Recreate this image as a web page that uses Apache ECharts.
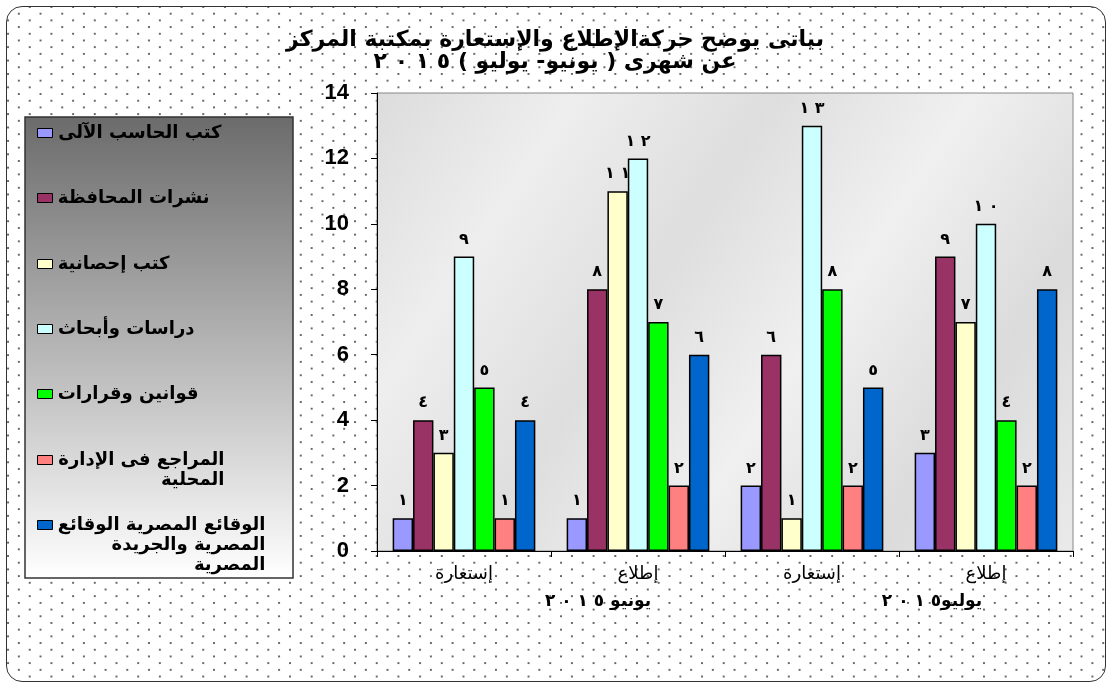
<!DOCTYPE html>
<html>
<head>
<meta charset="utf-8">
<script src="https://cdn.jsdelivr.net/npm/echarts@6/dist/echarts.min.js"></script>
<style>
    html, body { margin: 0; padding: 0; background: #fff; }
    .frame {
        position: absolute;
        left: 6px; top: 6px;
        width: 1098px; height: 674px;
        border: 1.5px solid #333;
        border-radius: 16px;
        background-color: #fff;
        background-image: radial-gradient(circle, #666 0.9px, transparent 1.4px),
                          radial-gradient(circle, #666 0.9px, transparent 1.4px);
        background-size: 21.7px 13.4px;
        background-position: 1px 0, 11.9px 6.7px;
    }
    #main { position: absolute; left: 0; top: 0; width: 1110px; height: 684px; }
</style>
</head>
<body>
<div class="frame"></div>
<div id="main" dir="rtl"></div>
<script>
    // الفئات على المحور الأفقي
    const categories = ['إستعارة', 'إطلاع', 'إستعارة', 'إطلاع'];
    const months = ['يونيو ٢٠١٥', 'يوليو٢٠١٥'];
    const yTicks = { min: 0, max: 14, interval: 2 };

    const seriesNames = [
        'كتب الحاسب الآلى',
        'نشرات المحافظة',
        'كتب إحصانية',
        'دراسات وأبحاث',
        'قوانين وقرارات',
        'المراجع فى الإدارة المحلية',
        'الوقائع المصرية الوقائع المصرية والجريدة المصرية'
    ];
    // نص وسيلة الإيضاح (بأسطر)
    const legendLines = [
        ['كتب الحاسب الآلى'],
        ['نشرات المحافظة'],
        ['كتب إحصانية'],
        ['دراسات وأبحاث'],
        ['قوانين وقرارات'],
        ['المراجع فى الإدارة', 'المحلية'],
        ['الوقائع المصرية الوقائع', 'المصرية والجريدة', 'المصرية']
    ];
    const seriesColors = ['#9999FF', '#993366', '#FFFFCC', '#CCFFFF', '#00FF00', '#FF8080', '#0066CC'];

    const computerBooks = [1, 1, 2, 3];
    const govBulletins  = [4, 8, 6, 9];
    const statsBooks    = [3, 11, 1, 7];
    const studies       = [9, 12, 13, 10];
    const laws          = [5, 7, 8, 4];
    const localAdmin    = [1, 2, 2, 2];
    const gazette       = [4, 6, 5, 8];
    const seriesValues = [computerBooks, govBulletins, statsBooks, studies, laws, localAdmin, gazette];

    const arabicDigits = '٠١٢٣٤٥٦٧٨٩';
    function toArabic(v) {
        return String(v).split('').map(d => arabicDigits[d]).join('\u00A0');
    }
    // يباعد بين الأرقام الهندية (مسافة غير منقسمة تحفظ الترتيب)
    function spaceDigits(s) {
        return s.replace(/[٠-٩]{2,}/g, m => m.split('').join('\u00A0'));
    }

    const chart = echarts.init(document.getElementById('main'));
    const arFont = '"DejaVu Sans", "Noto Sans", sans-serif';

    const legendFontSize = 18;
    const legendLineH = 20;
    const measureCtx = document.createElement('canvas').getContext('2d');
    measureCtx.font = 'bold ' + legendFontSize + 'px "DejaVu Sans"';

    // كل عنصر في وسيلة الإيضاح له مكانه الخاص
    const legendIconY = [133, 198, 264, 329, 394, 460, 525];
    const legends = seriesNames.map((name, i) => {
        const lines = legendLines[i];
        const n = lines.length;
        const w = Math.ceil(Math.max(...lines.map(l => measureCtx.measureText(l).width)));
        const text = '\n'.repeat(n - 1) + lines.map(l => '{r|' + l + '}').join('\n');
        const total = (2 * n - 1) * legendLineH;
        return {
            data: [name],
            orient: 'vertical',
            left: 37,
            top: legendIconY[i] - total / 2,
            padding: 0,
            z: 5,
            icon: 'rect',
            itemWidth: 15,
            itemHeight: 9,
            itemGap: 0,
            selectedMode: false,
            itemStyle: { borderColor: '#000', borderWidth: 1 },
            formatter: () => text,
            textStyle: {
                color: '#000',
                fontSize: legendFontSize,
                fontWeight: 'bold',
                fontFamily: arFont,
                lineHeight: legendLineH,
                rich: {
                    r: {
                        width: w,
                        align: 'right',
                        color: '#000',
                        fontSize: legendFontSize,
                        fontWeight: 'bold',
                        fontFamily: arFont,
                        lineHeight: legendLineH
                    }
                }
            }
        };
    });

    const series = seriesNames.map((name, i) => ({
        type: 'bar',
        name: name,
        data: seriesValues[i],
        barGap: '0%',
        barCategoryGap: '18%',
        itemStyle: { color: seriesColors[i], borderColor: '#000', borderWidth: 1.5 },
        label: {
            show: true,
            position: 'top',
            distance: 9,
            color: '#000',
            fontSize: 16,
            fontWeight: 'bold',
            fontFamily: arFont,
            formatter: p => toArabic(p.value)
        }
    }));

    const option = {
        animation: false,
        title: {
            text: spaceDigits('بياتى يوضح حركةالإطلاع والإستعارة بمكتبة المركز\nعن شهرى ( يونيو- يوليو ) ٢٠١٥'),
            left: 'center',
            top: 29,
            padding: 0,
            textStyle: {
                color: '#000',
                fontSize: 22,
                fontWeight: 'bold',
                fontFamily: arFont,
                lineHeight: 22
            }
        },
        graphic: [{
            type: 'rect',
            z: 0,
            shape: { x: 25, y: 117, width: 268, height: 461 },
            style: {
                fill: new echarts.graphic.LinearGradient(0, 0, 0, 1, [
                    { offset: 0, color: '#6b6b6b' },
                    { offset: 1, color: '#ffffff' }
                ]),
                stroke: '#333',
                lineWidth: 1.5
            }
        }],
        legend: legends,
        grid: {
            left: 377,
            right: 37,
            top: 93,
            bottom: 133,
            show: true,
            borderColor: '#888',
            borderWidth: 1,
            backgroundColor: new echarts.graphic.LinearGradient(0, 0, 1, 1, [
                { offset: 0, color: '#dcdcdc' },
                { offset: 0.2, color: '#eeeeee' },
                { offset: 0.4, color: '#dedede' },
                { offset: 0.6, color: '#f0f0f0' },
                { offset: 0.8, color: '#dbdbdb' },
                { offset: 1, color: '#eaeaea' }
            ])
        },
        xAxis: [{
            type: 'category',
            data: categories,
            position: 'bottom',
            axisLine: { lineStyle: { color: '#000', width: 1 } },
            axisTick: { show: true, length: 6, lineStyle: { color: '#000' } },
            axisLabel: {
                color: '#000',
                fontSize: 18,
                fontFamily: arFont,
                margin: 14
            }
        }, {
            type: 'category',
            data: months,
            position: 'bottom',
            axisLine: { show: false },
            axisTick: { show: false },
            axisLabel: {
                color: '#000',
                fontSize: 17,
                fontWeight: 'bold',
                fontFamily: arFont,
                margin: 42,
                formatter: (v, i) => '{p' + i + '|' + spaceDigits(v) + '}',
                rich: {
                    p0: { padding: [0, 0, 0, 94], fontSize: 17, fontWeight: 'bold', fontFamily: arFont, color: '#000' },
                    p1: { padding: [0, 0, 0, 66], fontSize: 17, fontWeight: 'bold', fontFamily: arFont, color: '#000' }
                }
            }
        }],
        yAxis: {
            type: 'value',
            min: yTicks.min,
            max: yTicks.max,
            interval: yTicks.interval,
            splitLine: { show: false },
            axisLine: { show: true, lineStyle: { color: '#000', width: 1 } },
            axisTick: { show: true, length: 6, lineStyle: { color: '#000' } },
            axisLabel: {
                color: '#000',
                fontSize: 22,
                fontWeight: 'bold',
                fontFamily: '"Liberation Sans", Arial, sans-serif',
                margin: 28
            }
        },
        series: series
    };
    chart.setOption(option);
</script>
</body>
</html>
